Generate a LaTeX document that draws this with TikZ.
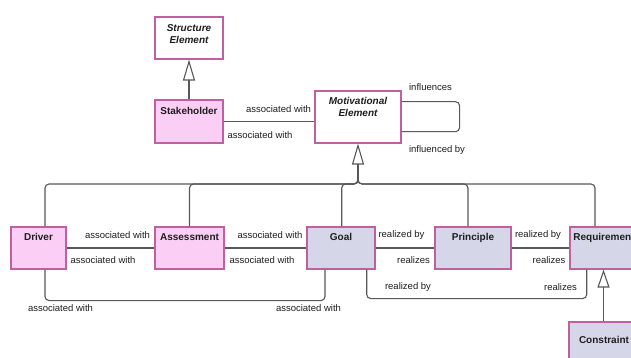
\documentclass[tikz,border=0pt]{standalone}
\usepackage{fontspec}
\setmainfont{Liberation Sans}
\usetikzlibrary{arrows.meta}

\definecolor{pinkfill}{RGB}{251,206,246}
\definecolor{lavfill}{RGB}{214,214,233}
\definecolor{boxline}{RGB}{192,96,160}
\definecolor{wire}{RGB}{88,88,88}
\definecolor{ink}{RGB}{30,30,30}

\tikzset{
  box/.style={draw=boxline, line width=1.1pt, inner sep=0pt, rectangle},
  pinkbox/.style={box, fill=pinkfill},
  lavbox/.style={box, fill=lavfill},
  whitebox/.style={box, fill=white},
  ttl/.style={anchor=north, inner sep=0pt, font=\bfseries, align=center, text=ink},
  wirestyle/.style={draw=wire, line width=1.1pt, rounded corners=4pt},
  gen/.style={wirestyle, -{Triangle[open, length=21pt, width=12pt, line width=1.1pt]}},
  rel/.style={inner sep=0pt, text=ink}
}

\begin{document}
\begin{tikzpicture}[x=1pt, y=-1pt, font=\fontsize{9.5}{14}\selectfont]
  \useasboundingbox (0,0) rectangle (631,358);
  \fill[white] (0,0) rectangle (631,358);
  \clip (0,0) rectangle (631,358);

  % element boxes
  \node[whitebox, minimum width=68pt, minimum height=42pt,
        label={[ttl, yshift=-7.6pt, font=\bfseries\itshape]north:Structure\\Element}] (se) at (189,38) {};
  \node[pinkbox, minimum width=68pt, minimum height=43pt,
        label={[ttl, yshift=-8pt]north:Stakeholder}] (sh) at (189,121.5) {};
  \node[whitebox, minimum width=86pt, minimum height=52pt,
        label={[ttl, yshift=-6.6pt, font=\bfseries\itshape]north:Motivational\\Element}] (me) at (358,117) {};

  \node[pinkbox, minimum width=55pt, minimum height=42pt,
        label={[ttl, yshift=-6.6pt]north:Driver}] (drv) at (38.5,248) {};
  \node[pinkbox, minimum width=69pt, minimum height=42pt,
        label={[ttl, yshift=-6.6pt]north:Assessment}] (ass) at (189.5,248) {};
  \node[lavbox, minimum width=68pt, minimum height=42pt,
        label={[ttl, yshift=-6.6pt]north:Goal}] (goal) at (341,248) {};
  \node[lavbox, minimum width=76pt, minimum height=42pt,
        label={[ttl, yshift=-6.6pt]north:Principle}] (pri) at (473,248) {};
  \node[lavbox, minimum width=68pt, minimum height=42pt,
        label={[ttl, yshift=-6.6pt]north:Requirement}] (req) at (604,248) {};
  \node[lavbox, minimum width=70pt, minimum height=43pt,
        label={[ttl, yshift=-14.5pt]north:Constraint}] (con) at (604,343.5) {};

  % specialisation of the stakeholder
  \draw[gen] (sh.north) -- (se.south);

  % stakeholder association
  \draw[wirestyle] (sh.east) -- (sh.east -| me.west);
  \node[rel] (a1) at (278.5,109) {associated with};
  \node[rel] (a2) at (260,135) {associated with};

  % self association of the motivational element
  \draw[wirestyle] ([yshift=15.3pt]me.east) -- ++(58,0) -- ++(0,30) -- ([yshift=-14.7pt]me.east);
  \node[rel] (inf1) at (430.5,87) {influences};
  \node[rel] (inf2) at (437,150) {influenced by};

  % specialisation tree
  \coordinate (bus) at (358,184);
  \coordinate (hub) at (358,176);
  \draw[gen] (hub) -- (me.south);
  \draw[wirestyle] ([xshift=6.5pt]drv.north) |- (bus) -- (hub);
  \draw[wirestyle] (ass.north) |- (bus) -- (hub);
  \draw[wirestyle] ([xshift=0.7pt]goal.north) |- (bus) -- (hub);
  \draw[wirestyle] ([xshift=-5pt]pri.north) |- (bus) -- (hub);
  \draw[wirestyle] ([xshift=-9pt]req.north) |- (bus) -- (hub);

  % associations along the row
  \draw[wirestyle] (drv.east) -- (ass.west);
  \node[rel] (a3) at (117.5,235) {associated with};
  \node[rel] (a4) at (103,260) {associated with};
  \draw[wirestyle] (ass.east) -- (goal.west);
  \node[rel] (a5) at (270,235) {associated with};
  \node[rel] (a6) at (262,260) {associated with};

  % realisations along the row
  \draw[wirestyle] (goal.east) -- (pri.west);
  \node[rel] (r1) at (401.5,235) {realized by};
  \node[rel] (r2) at (413.5,260) {realizes};
  \draw[wirestyle] (pri.east) -- (req.west);
  \node[rel] (r3) at (538,235) {realized by};
  \node[rel] (r4) at (549,260) {realizes};

  % lower loops
  \draw[wirestyle] ([xshift=6.5pt]drv.south) -- ++(0,31) -| ([xshift=-16pt]goal.south);
  \node[rel] (a7) at (60.5,308) {associated with};
  \node[rel] (a8) at (308.5,308) {associated with};
  \draw[wirestyle] ([xshift=25.7pt]goal.south) -- ++(0,29) -| ([xshift=-17.3pt]req.south);
  \node[rel] (r5) at (408,287) {realized by};
  \node[rel] (r6) at (560.5,287) {realizes};

  % specialisation of the requirement
  \draw[wirestyle, -{Triangle[open, length=18pt, width=12pt, line width=1.1pt]}]
    ([xshift=-0.5pt]con.north) -- ([xshift=-0.5pt]req.south);
\end{tikzpicture}
\end{document}
